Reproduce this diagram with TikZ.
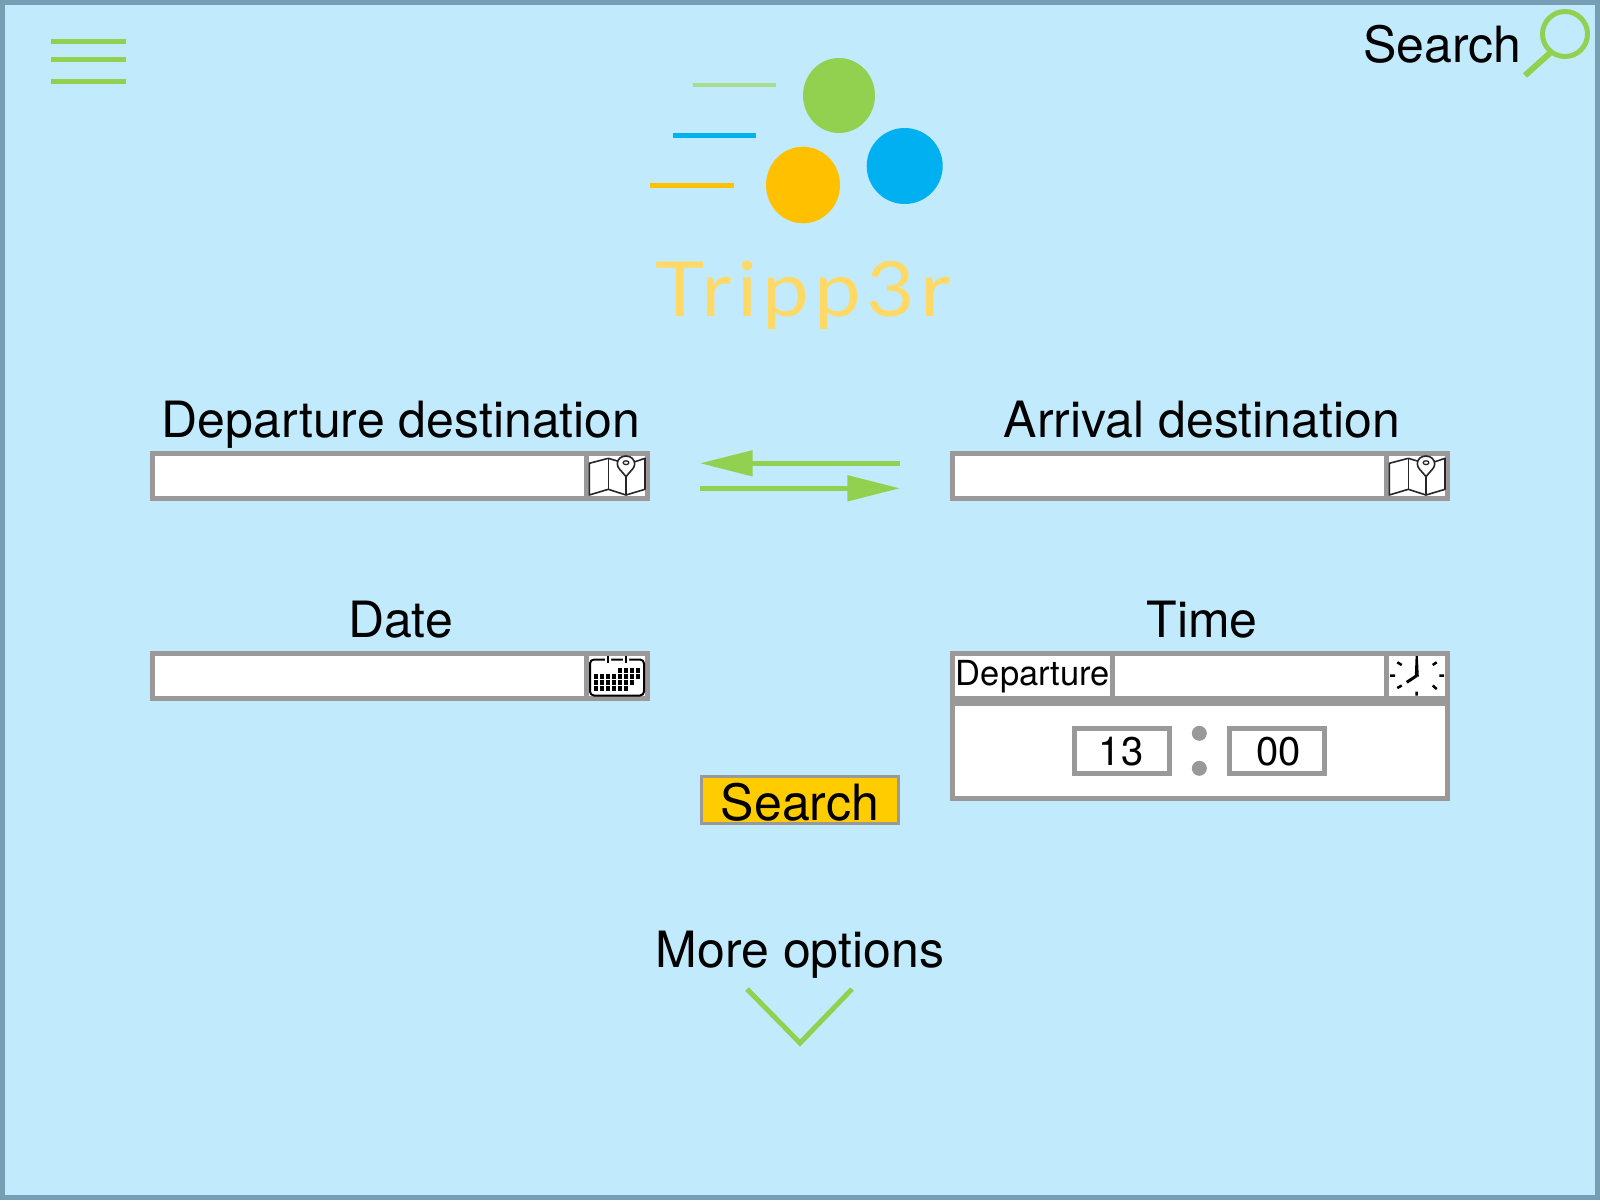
\documentclass[tikz,border=0pt]{standalone}
\usepackage{fontspec}
\setmainfont{TeX Gyre Heros}
\newfontfamily\logofont[LetterSpace=7,FakeStretch=1.1]{Lato}
\usetikzlibrary{arrows.meta}
\definecolor{bgblue}{HTML}{C1EBFC}
\definecolor{edgeblue}{HTML}{769FB5}
\definecolor{leaf}{HTML}{92D050}
\definecolor{leaflight}{HTML}{A9DC8C}
\definecolor{sky}{HTML}{00B0F0}
\definecolor{amber}{HTML}{FFC000}
\definecolor{btnamber}{HTML}{FFCC00}
\definecolor{logotext}{HTML}{FFD966}
\definecolor{frame}{HTML}{999999}
\tikzset{
  x=1pt,y=-1pt,
  label50/.style={anchor=base,inner sep=0pt,font=\fontsize{50}{60}\selectfont},
  label40/.style={anchor=base,inner sep=0pt,font=\fontsize{40}{48}\selectfont},
  label35/.style={anchor=base,inner sep=0pt,font=\fontsize{34.5}{40}\selectfont},
  fieldbox/.style={draw=frame,line width=5pt,fill=white,minimum width=495pt,minimum height=45pt,inner sep=0pt},
  numbox/.style={draw=frame,line width=5pt,fill=white,minimum width=95pt,minimum height=45pt,inner sep=0pt},
  sep/.style={fill=frame},
  greenrule/.style={draw=leaf,line width=5pt},
  swaparrow/.style={draw=leaf,fill=leaf,line width=5pt,-{Triangle[length=52.7pt,width=25pt]}},
  icon/.style={draw=black!85,line width=1.6pt,line join=round},
  mapicon/.pic={
    \draw[icon,fill=white] (0.3,7.3) -- (19.3,2.3) -- (28.3,5) -- (46,5.7) -- (56,2.3) -- (56,33.3) -- (37,39) -- (19.3,33.3) -- (0.3,39) -- cycle;
    \draw[icon] (19.3,2.3) -- (19.3,33.3) (37,20.7) -- (37,39);
    \draw[icon,fill=white] (37,20.7) .. controls (33,15) and (28.3,12.5) .. (28.3,8) .. controls (28.3,3) and (32,0) .. (37,0) .. controls (42,0) and (45.7,3.5) .. (45.7,8) .. controls (45.7,12.5) and (41,15) .. (37,20.7) -- cycle;
    \draw[icon,line width=1.3pt] (37,6.7) ellipse [x radius=2.9pt,y radius=1.9pt];
  },
  calicon/.pic={
    \draw[draw=black,line width=2pt,fill=white,rounded corners=4pt] (1,3.5) rectangle (55,39.5);
    \fill[white] (16,1) rectangle (22,6) (34,1) rectangle (40,6);
    \draw[black,line width=2pt] (19.3,0) -- (19.3,7.3) (37,0) -- (37,7.3);
    \foreach \i in {4,...,7} \fill (4.5+\i*6,12.3) rectangle ++(4.2,4.2);
    \foreach \i in {0,...,7} \fill (4.5+\i*6,18.3) rectangle ++(4.2,4.2);
    \foreach \i in {0,...,6} \fill (4.5+\i*6,24.3) rectangle ++(4.2,4.2);
    \foreach \i in {0,...,5} \fill (4.5+\i*6,30.3) rectangle ++(4.2,4.2);
  },
  clockicon/.pic={
    \draw[black,line width=2.5pt]
      (27.7,35.7) -- (27.7,39.7) (1,19.7) -- (6,19.7) (50.3,19.7) -- (55,19.7)
      (8.3,6.3) -- (12.7,9) (47.7,6.3) -- (43.7,9) (8.3,32) -- (12.7,29.5) (47.7,33) -- (43.7,29.5);
    \fill[black] (25.8,20.5) -- (26.6,0) -- (28.8,0) -- (29.8,20.5) -- cycle;
    \draw[black,line width=3pt] (27.7,19.7) -- (17.7,26.3);
  },
}
\begin{document}
\begin{tikzpicture}
\useasboundingbox (0,0) rectangle (1600,1200);
% page
\draw[draw=edgeblue,fill=bgblue,line width=5pt] (2.5,2.5) rectangle (1597.5,1197.5);
% hamburger
\coordinate (h1a) at (51,41.5); \coordinate (h1b) at (126,41.5);
\coordinate (h2a) at (51,59.5); \coordinate (h2b) at (126,59.5);
\coordinate (h3a) at (51,81.5); \coordinate (h3b) at (126,81.5);
\draw[greenrule] (h1a) -- (h1b);
\draw[greenrule] (h2a) -- (h2b);
\draw[greenrule] (h3a) -- (h3b);
% search top
\node[label50] (topsearch) at (1442.5,62.7) {Search};
\draw[draw=leaf,line width=5pt] (1565,34) circle [radius=22.5pt];
\draw[draw=leaf,line width=6pt] (1550,53) -- (1525,75.5);
% logo
\fill[leaf] (839,95.5) ellipse [x radius=36pt,y radius=37.5pt];
\fill[sky] (904.7,166) circle [radius=38pt];
\fill[amber] (803,185) ellipse [x radius=37pt,y radius=38.3pt];
\draw[leaflight,line width=4pt] (693.3,84.7) -- (775.7,84.7);
\draw[sky,line width=5pt] (673.3,135) -- (756,135);
\draw[amber,line width=5pt] (650,185) -- (734,185);
\node[anchor=base,inner sep=0pt,text=logotext,font=\logofont\fontsize{76}{90}\selectfont] (logo) at (803.5,316.7) {Tripp3r};
% labels
\node[label50] (deplabel) at (401,437) {Departure destination};
\node[label50] (arrlabel) at (1202,437) {Arrival destination};
\node[label50] (datelabel) at (400.5,637) {Date};
\node[label50] (timelabel) at (1202,637) {Time};
\node[label50] (morelabel) at (800,967) {More options};
% fields
\node[fieldbox] (depfield) at (400,476) {};
\fill[sep] (584,456) rectangle (589,496);
\pic at (589,456) {mapicon};
\node[fieldbox] (arrfield) at (1200,476) {};
\fill[sep] (1384,456) rectangle (1389,496);
\pic at (1389,456) {mapicon};
\node[fieldbox] (datefield) at (400,676) {};
\fill[sep] (584,656) rectangle (589,696);
\pic at (589,656) {calicon};
% time
\node[fieldbox,minimum height=145pt] (timefield) at (1200,726) {};
\fill[sep] (955,696) rectangle (1445,706);
\fill[sep] (1110,656) rectangle (1115,696);
\fill[sep] (1384,656) rectangle (1389,696);
\node[label35] (deptext) at (1033,685) {Departure};
\pic at (1389,656) {clockicon};
\node[numbox] (hourbox) at (1122,751) {};
\node[numbox] (minbox) at (1277,751) {};
\node[label40] (hourtext) at (1121,765) {13};
\node[label40] (mintext) at (1278.5,765) {00};
\fill[frame] (1199.3,733.3) circle [radius=7.5pt];
\fill[frame] (1199.3,768.3) circle [radius=7.5pt];
% swap arrows
\coordinate (swapr) at (900,463.3); \coordinate (swapl) at (700,463.3);
\coordinate (swapa) at (700,488.3); \coordinate (swapb) at (900,488.3);
\draw[swaparrow] (swapr) -- (swapl);
\draw[swaparrow] (swapa) -- (swapb);
% search button
\node[draw=frame,line width=3.3pt,fill=btnamber,minimum width=196.7pt,minimum height=46.7pt,inner sep=0pt] (searchbtn) at (800,800) {};
\node[label50] (searchtext) at (800,820) {Search};
% chevron
\coordinate (cha) at (747,989); \coordinate (chb) at (800,1043); \coordinate (chc) at (852,989);
\draw[draw=leaf,line width=5pt] (cha) -- (chb) -- (chc);
\end{tikzpicture}
\end{document}
